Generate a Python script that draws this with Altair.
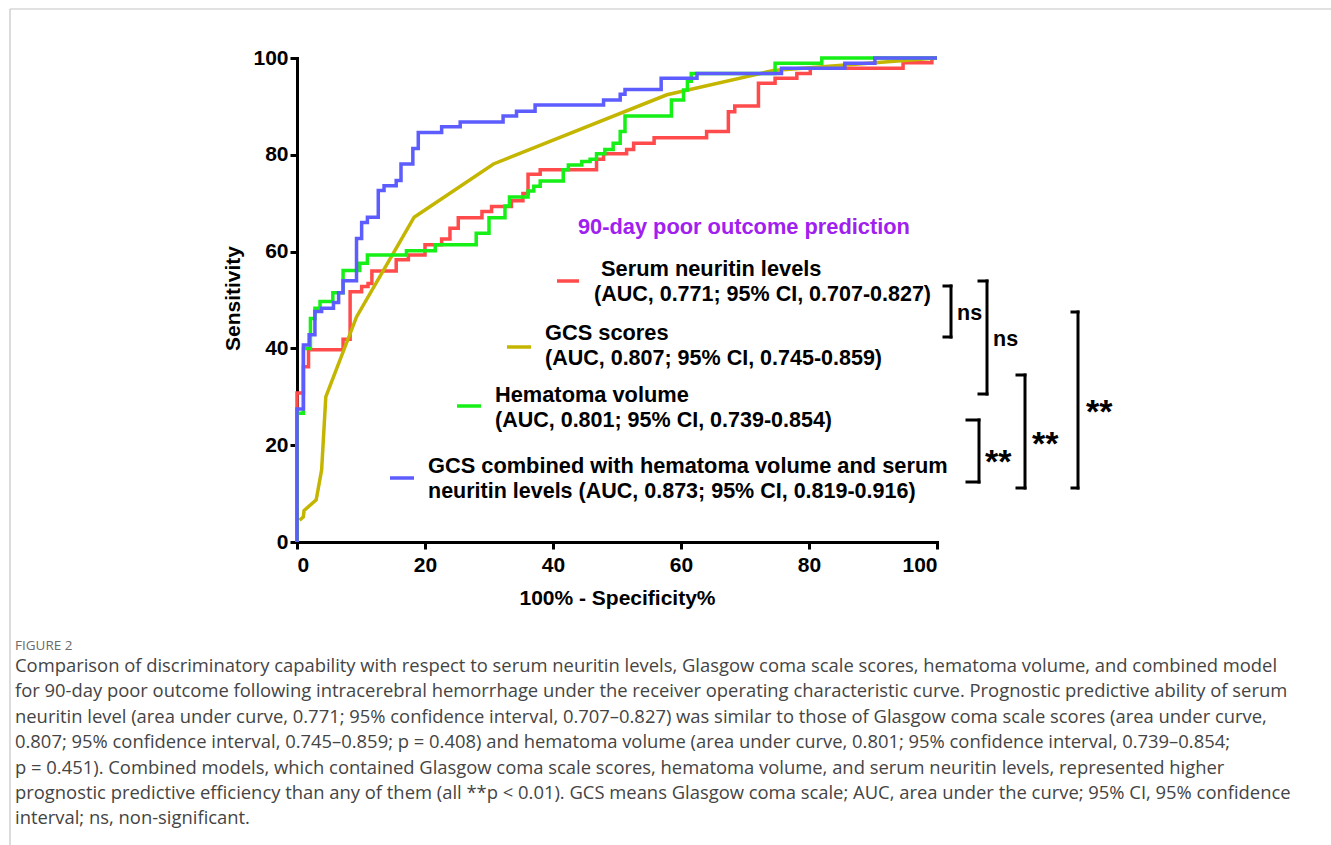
import altair as alt
import pandas as pd

# ---------------------------------------------------------------------------
# ROC curves, 90-day poor outcome after intracerebral hemorrhage.
# x = 100% - specificity (%), y = sensitivity (%), step vertices in order.
# ---------------------------------------------------------------------------
serum_fpr = [0, 0, 1.0, 1.0, 1.8, 1.8, 7.2, 7.2, 8.3, 8.3, 10.1, 10.1, 11.1, 11.1,
             11.7, 11.7, 15.5, 15.5, 17.4, 17.4, 20.0, 20.0, 22.6, 22.6, 23.9, 23.9,
             25.2, 25.2, 28.9, 28.9, 30.4, 30.4, 33.5, 33.5, 35.3, 35.3, 36.1, 36.1,
             38.0, 38.0, 46.8, 46.8, 47.9, 47.9, 51.5, 51.5, 52.6, 52.6, 55.8, 55.8,
             64.0, 64.0, 67.4, 67.4, 68.4, 68.4, 72.1, 72.1, 74.7, 74.7, 78.1, 78.1,
             80.2, 80.2, 94.7, 94.7, 99.2, 99.2, 100]
serum_tpr = [0, 30.8, 30.8, 36.2, 36.2, 39.7, 39.7, 41.9, 41.9, 51.7, 51.7, 52.8, 52.8, 53.4,
             53.4, 56.0, 56.0, 58.3, 58.3, 59.3, 59.3, 61.4, 61.4, 62.6, 62.6, 64.8,
             64.8, 67.0, 67.0, 68.3, 68.3, 69.3, 69.3, 70.5, 70.5, 72.0, 72.0, 76.0,
             76.0, 76.9, 76.9, 79.1, 79.1, 80.2, 80.2, 81.1, 81.1, 82.4, 82.4, 83.5,
             83.5, 84.8, 84.8, 88.9, 88.9, 90.1, 90.1, 94.8, 94.8, 95.8, 95.8, 96.8,
             96.8, 97.9, 97.9, 99.0, 99.0, 100, 100]

gcs_fpr = [0.4, 1.0, 1.1, 3.0, 3.85, 4.5, 9.3, 18.3, 30.7, 57.8, 74.4, 100]
gcs_tpr = [4.5, 5.2, 6.5, 8.7, 14.9, 30.0, 46.5, 67.1, 78.1, 92.4, 97.4, 100]

hema_fpr = [0, 0, 1.0, 1.0, 2.1, 2.1, 2.8, 2.8, 3.6, 3.6, 5.6, 5.6, 7.2, 7.2, 9.8, 9.8,
            11.0, 11.0, 17.1, 17.1, 21.6, 21.6, 28.0, 28.0, 30.0, 30.0, 32.5, 32.5,
            33.2, 33.2, 36.1, 36.1, 37.0, 37.0, 38.0, 38.0, 41.6, 41.6, 42.4, 42.4,
            44.5, 44.5, 45.8, 45.8, 46.8, 46.8, 48.1, 48.1, 49.4, 49.4, 50.5, 50.5,
            51.25, 51.25, 58.5, 58.5, 60.4, 60.4, 61.0, 61.0, 61.6, 61.6, 74.7, 74.7,
            82.0, 82.0, 100]
hema_tpr = [0, 26.6, 26.6, 40.0, 40.0, 46.2, 46.2, 48.3, 48.3, 49.7, 49.7, 51.5, 51.5, 56.1,
            56.1, 57.6, 57.6, 59.3, 59.3, 60.2, 60.2, 61.4, 61.4, 63.8, 63.8, 67.0,
            67.0, 69.4, 69.4, 71.3, 71.3, 72.5, 72.5, 73.5, 73.5, 74.6, 74.6, 76.9,
            76.9, 77.9, 77.9, 78.6, 78.6, 79.1, 79.1, 80.2, 80.2, 81.1, 81.1, 82.4,
            82.4, 84.8, 84.8, 88.0, 88.0, 91.3, 91.3, 93.4, 93.4, 95.2, 95.2, 96.8,
            96.8, 98.9, 98.9, 100, 100]

comb_fpr = [0, 0, 1.0, 1.0, 1.9, 1.9, 2.8, 2.8, 3.85, 3.85, 5.7, 5.7, 6.5, 6.5, 7.2, 7.2,
            9.3, 9.3, 10.1, 10.1, 11.0, 11.0, 12.7, 12.7, 13.6, 13.6, 15.5, 15.5,
            16.25, 16.25, 18.1, 18.1, 18.95, 18.95, 22.6, 22.6, 25.5, 25.5, 32.2,
            32.2, 34.3, 34.3, 37.2, 37.2, 47.9, 47.9, 50.5, 50.5, 51.25, 51.25, 56.9,
            56.9, 62.5, 62.5, 75.7, 75.7, 85.6, 85.6, 90.3, 90.3, 100]
comb_tpr = [0, 27.5, 27.5, 40.7, 40.7, 42.8, 42.8, 47.6, 47.6, 48.3, 48.3, 49.5, 49.5, 51.5,
            51.5, 54.0, 54.0, 62.7, 62.7, 66.0, 66.0, 67.1, 67.1, 72.6, 72.6, 73.6,
            73.6, 74.7, 74.7, 78.1, 78.1, 81.3, 81.3, 84.6, 84.6, 85.8, 85.8, 86.8,
            86.8, 88.0, 88.0, 89.0, 89.0, 90.3, 90.3, 91.3, 91.3, 92.5, 92.5, 93.5,
            93.5, 95.8, 95.8, 96.8, 96.8, 97.9, 97.9, 98.9, 98.9, 100, 100]

legend_title = "90-day poor outcome prediction"
legend_lines = [
    ("Serum neuritin levels", "(AUC, 0.771; 95% CI, 0.707-0.827)"),
    ("GCS scores", "(AUC, 0.807; 95% CI, 0.745-0.859)"),
    ("Hematoma volume", "(AUC, 0.801; 95% CI, 0.739-0.854)"),
    ("GCS combined with hematoma volume and serum",
     "neuritin levels (AUC, 0.873; 95% CI, 0.819-0.916)"),
]
colors = ["#ff4b4b", "#c4b600", "#16f016", "#5c5cff"]
tick_values = [0, 20, 40, 60, 80, 100]

caption_head = "FIGURE 2"
caption_lines = [
    "Comparison of discriminatory capability with respect to serum neuritin levels, Glasgow coma scale scores, hematoma volume, and combined model",
    "for 90-day poor outcome following intracerebral hemorrhage under the receiver operating characteristic curve. Prognostic predictive ability of serum",
    "neuritin level (area under curve, 0.771; 95% confidence interval, 0.707\u20130.827) was similar to those of Glasgow coma scale scores (area under curve,",
    "0.807; 95% confidence interval, 0.745\u20130.859; p = 0.408) and hematoma volume (area under curve, 0.801; 95% confidence interval, 0.739\u20130.854;",
    "p = 0.451). Combined models, which contained Glasgow coma scale scores, hematoma volume, and serum neuritin levels, represented higher",
    "prognostic predictive efficiency than any of them (all **p < 0.01). GCS means Glasgow coma scale; AUC, area under the curve; 95% CI, 95% confidence",
    "interval; ns, non-significant.",
]

# ---------------------------------------------------------------------------
# Layout (page pixels); the plot area sits at (OX, OY) with size W x H
# ---------------------------------------------------------------------------
PAGE_W, PAGE_H = 1331, 845
OX, OY, W, H = 297, 58, 640, 484
FONT = "Liberation Sans"
CAP_FONT = "Open Sans"
ONE = pd.DataFrame({"k": [0]})


def px(x):
    return alt.value(x - OX)


def py(y):
    return alt.value(y - OY)


def text(label, x, y, size, color="black", weight="bold", align="left",
         baseline="middle", font=FONT):
    return alt.Chart(ONE).mark_text(
        text=label, align=align, baseline=baseline, fontSize=size,
        fontWeight=weight, font=font, color=color,
    ).encode(x=px(x), y=py(y))


def rule(x1, y1, x2, y2, color="black", width=3, cap="square"):
    return alt.Chart(ONE).mark_rule(
        color=color, strokeWidth=width, strokeCap=cap
    ).encode(x=px(x1), x2=px(x2), y=py(y1), y2=py(y2))


def bracket(x_left, x_right, top, bottom):
    return [rule(x_left, top, x_right, top),
            rule(x_right, top, x_right, bottom),
            rule(x_left, bottom, x_right, bottom)]


x_scale = alt.Scale(domain=[0, 100], nice=False, zero=False)
y_scale = alt.Scale(domain=[0, 100], nice=False, zero=False)

axis_common = dict(
    values=tick_values, grid=False, domainColor="black", domainWidth=3,
    tickColor="black", tickWidth=3, tickSize=7, labelFont=FONT,
    labelFontSize=21, labelFontWeight="bold", labelColor="black",
    titleFont=FONT, titleFontSize=21, titleFontWeight="bold", titleColor="black",
    domainCap="square",
)
x_axis = alt.Axis(title="100% - Specificity%", labelPadding=5,
                  titleY=56, titleBaseline="middle", **axis_common)
y_axis = alt.Axis(title="Sensitivity", labelPadding=2, titleX=-64, titleY=240,
                  titleAngle=-90, titleBaseline="middle", titleAlign="center",
                  **axis_common)


def curve(fpr, tpr, color):
    df = pd.DataFrame({"fpr": fpr, "tpr": tpr, "idx": range(len(fpr))})
    return alt.Chart(df).mark_line(
        color=color, strokeWidth=3.5, strokeJoin="miter", interpolate="linear"
    ).encode(
        x=alt.X("fpr:Q", scale=x_scale, axis=x_axis),
        y=alt.Y("tpr:Q", scale=y_scale, axis=y_axis),
        order="idx:Q",
    )


layers = [
    curve(serum_fpr, serum_tpr, colors[0]),
    curve(gcs_fpr, gcs_tpr, colors[1]),
    curve(hema_fpr, hema_tpr, colors[2]),
    curve(comb_fpr, comb_tpr, colors[3]),
]

# Legend block
layers.append(text(legend_title, 578, 227, 21.8, color="#a020f0"))
legend_pos = [  # swatch x0, x1, swatch y, text x (line 1, line 2), first-line y
    (557, 579, 281, 601, 594, 269),
    (507, 531, 347, 545, 545, 333),
    (457, 481, 406, 495, 495, 395),
    (390, 414, 478, 428, 428, 466),
]
for (sx0, sx1, sy, tx1, tx2, ty), (l1, l2), c in zip(legend_pos, legend_lines, colors):
    layers.append(rule(sx0, sy, sx1, sy, color=c, width=3.5, cap="butt"))
    layers.append(text(l1, tx1, ty, 21.8))
    layers.append(text(l2, tx2, ty + 26, 21.5))

# Significance brackets
layers += bracket(944, 951, 286, 337)
layers.append(text("ns", 957, 314, 21.5))
layers += bracket(979, 987, 281, 394)
layers.append(text("ns", 993, 340, 21.5))
layers += bracket(967, 979, 420, 482)
layers.append(text("**", 985, 453 + 20, 34, baseline="alphabetic"))
layers += bracket(1017, 1025, 375, 488)
layers.append(text("**", 1032, 435 + 20, 34, baseline="alphabetic"))
layers += bracket(1072, 1078, 312, 488)
layers.append(text("**", 1086, 403 + 20, 34, baseline="alphabetic"))

# Figure frame
layers.append(rule(10, 9, PAGE_W, 9, color="#c4c4c4", width=1.2, cap="butt"))
layers.append(rule(10, 9, 10, PAGE_H, color="#c4c4c4", width=1.2, cap="butt"))

# Caption
layers.append(text(caption_head, 15, 646, 13.5, color="#6b6b6b", weight="normal",
                   font=CAP_FONT))
for i, line in enumerate(caption_lines):
    layers.append(text(line, 15, 666 + i * 25.4, 18.4, color="#444444",
                       weight="normal", font=CAP_FONT))

chart = alt.layer(*layers).properties(
    width=W, height=H,
    padding={"left": OX, "top": OY, "right": PAGE_W - OX - W, "bottom": PAGE_H - OY - H},
    autosize=alt.AutoSizeParams(type="none"),
    background="white",
).configure_view(stroke=None)

chart.save("out.html", embed_options={"renderer": "svg", "actions": False})
